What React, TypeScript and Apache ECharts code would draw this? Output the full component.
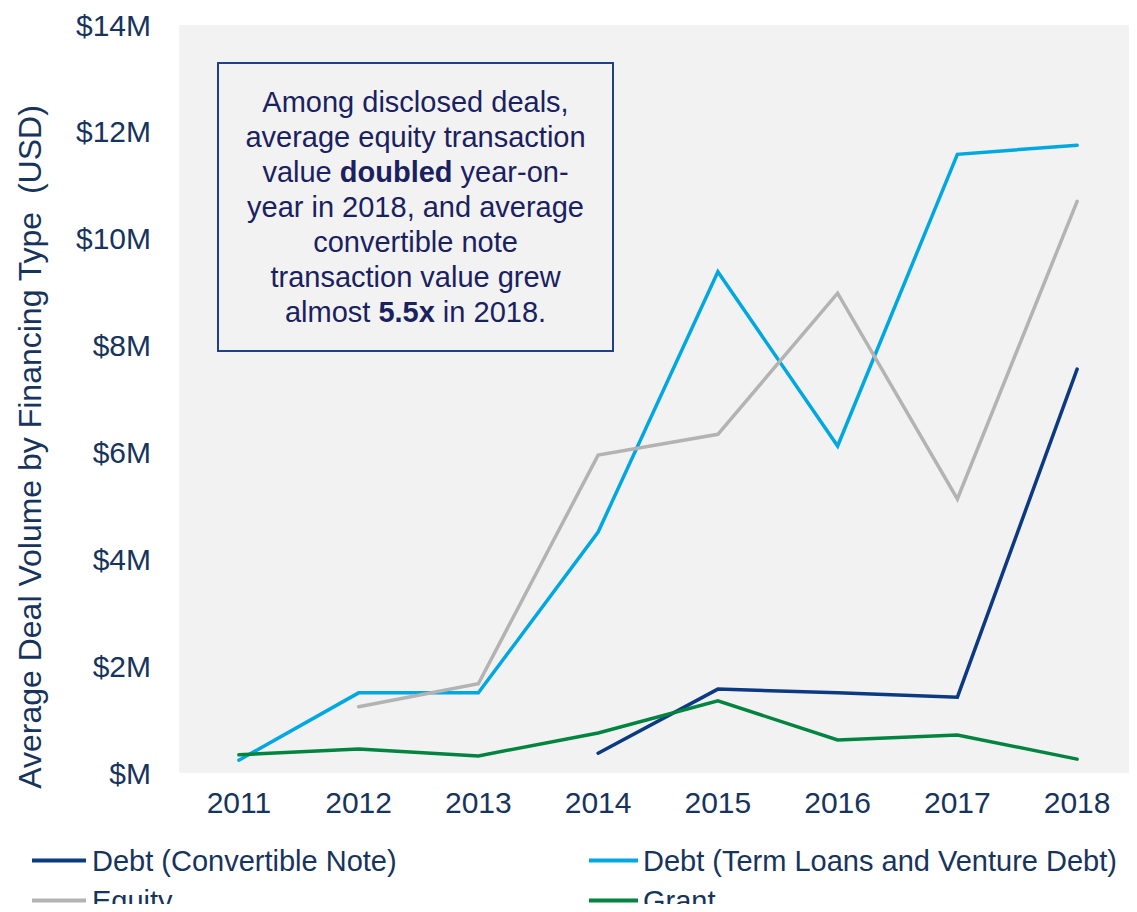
import React, { useEffect, useRef } from "react";
import * as echarts from "echarts";

const years = ["2011", "2012", "2013", "2014", "2015", "2016", "2017", "2018"];
const convertibleNote = [null, null, null, 0.37, 1.57, 1.5, 1.42, 7.56];
const termLoans = [0.24, 1.5, 1.5, 4.51, 9.38, 6.12, 11.58, 11.75];
const equity = [null, 1.24, 1.67, 5.95, 6.34, 8.98, 5.13, 10.7];
const grant = [0.34, 0.45, 0.32, 0.75, 1.35, 0.62, 0.71, 0.26];

const seriesNames = [
  "Debt (Convertible Note)",
  "Debt (Term Loans and Venture Debt)",
  "Equity",
  "Grant",
];
const seriesColors = ["#0b3a82", "#00a8e1", "#b3b3b3", "#00843f"];

const noteLines = [
  "{n|Among disclosed deals,}",
  "{n|average equity transaction}",
  "{n|value }{b|doubled}{n| year-on-}",
  "{n|year in 2018, and average}",
  "{n|convertible note}",
  "{n|transaction value grew}",
  "{n|almost }{b|5.5x}{n| in 2018.}",
];

const FONT = "'Liberation Sans', Arial, sans-serif";
const NAVY = "#17345c";

export default function App() {
  const ref = useRef<HTMLDivElement>(null);
  useEffect(() => {
    if (!ref.current) return;
    const chart = echarts.init(ref.current, null, { renderer: "svg" });
    const dataSets = [convertibleNote, termLoans, equity, grant];
    const legendPos = [
      { left: 32, top: 846, w: 54, pad: 1 },
      { left: 589, top: 846, w: 49, pad: 0 },
      { left: 32, top: 886, w: 54, pad: 1 },
      { left: 589, top: 886, w: 49, pad: 0 },
    ];
    chart.setOption({
      animation: false,
      textStyle: { fontFamily: FONT },
      grid: {
        left: 179,
        top: 25,
        right: 0,
        bottom: 139,
        show: true,
        backgroundColor: "#f2f2f2",
        borderWidth: 0,
        containLabel: false,
      },
      xAxis: {
        type: "category",
        data: years,
        boundaryGap: true,
        axisLine: { show: false },
        axisTick: { show: false },
        axisLabel: { color: NAVY, fontSize: 30, fontFamily: FONT, margin: 14 },
      },
      yAxis: {
        type: "value",
        min: 0,
        max: 14,
        interval: 2,
        splitLine: { show: false },
        axisLine: { show: false },
        axisTick: { show: false },
        axisLabel: {
          color: NAVY,
          fontSize: 30,
          fontFamily: FONT,
          margin: 28,
          formatter: (v: number) => (v === 0 ? "$M" : "$" + v + "M"),
        },
      },
      legend: seriesNames.map((name, i) => ({
        data: [name],
        orient: "horizontal",
        left: legendPos[i].left,
        top: legendPos[i].top,
        padding: 0,
        itemWidth: legendPos[i].w,
        itemHeight: 4,
        itemGap: 0,
        icon: "rect",
        textStyle: {
          color: NAVY,
          fontSize: 29,
          fontFamily: FONT,
          lineHeight: 26,
          padding: [0, 0, 0, legendPos[i].pad],
        },
      })),
      series: seriesNames.map((name, i) => ({
        name,
        type: "line",
        data: dataSets[i],
        showSymbol: false,
        symbol: "none",
        connectNulls: false,
        lineStyle: { color: seriesColors[i], width: 3.5, cap: "round", join: "miter" },
        itemStyle: { color: seriesColors[i] },
        z: 2 + i,
      })),
      graphic: [
        {
          type: "text",
          x: 30,
          y: 447,
          rotation: Math.PI / 2,
          style: {
            text: "Average Deal Volume by Financing Type  (USD)",
            font: `32px ${FONT}`,
            fill: NAVY,
            align: "center",
            verticalAlign: "middle",
          },
        },
        {
          type: "rect",
          shape: { x: 218, y: 63, width: 395, height: 288 },
          style: { fill: "#f2f2f2", stroke: "#1f4287", lineWidth: 2 },
          z: 10,
        },
        {
          type: "text",
          x: 415.5,
          y: 207,
          z: 11,
          style: {
            text: noteLines.join("\n"),
            align: "center",
            verticalAlign: "middle",
            fill: "#1a2160",
            font: `29px ${FONT}`,
            lineHeight: 35,
            rich: {
              n: { fontSize: 29, fontFamily: FONT, fill: "#1a2160", lineHeight: 35 },
              b: { fontSize: 29, fontFamily: FONT, fontWeight: "bold", fill: "#1a2160", lineHeight: 35 },
            },
          },
        },
      ],
    });
    return () => chart.dispose();
  }, []);
  return <div ref={ref} style={{ width: 1137, height: 912, margin: -8 }} />;
}
